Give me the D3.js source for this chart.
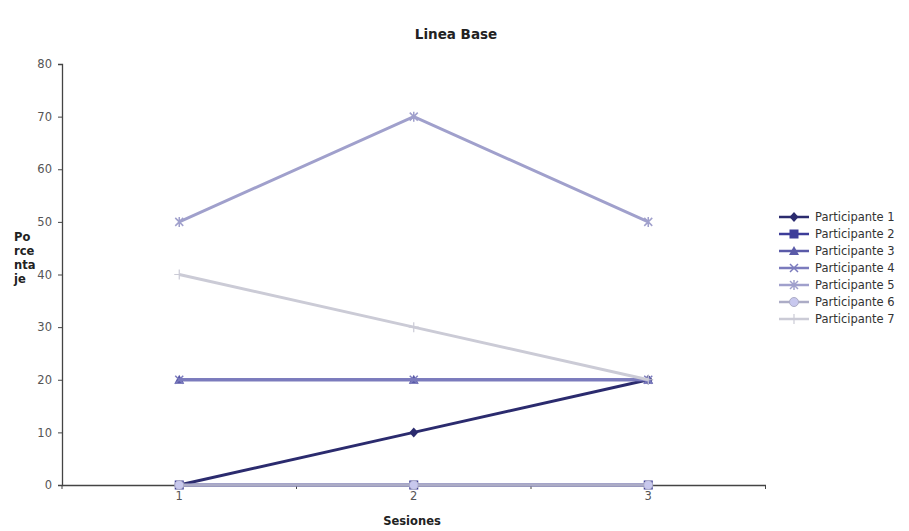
<!DOCTYPE html>
<html><head><meta charset="utf-8">
<script src="https://cdn.jsdelivr.net/npm/d3@7"></script>
<style>body{margin:0;background:#fff}svg{display:block}</style>
</head><body>
<script>
const sessions = ["1","2","3"];
const yTicks = [0,10,20,30,40,50,60,70,80];
const seriesNames = ["Participante 1","Participante 2","Participante 3","Participante 4","Participante 5","Participante 6","Participante 7"];
const p1 = [0,10,20];
const p2 = [0,0,0];
const p3 = [20,20,20];
const p4 = [20,20,20];
const p5 = [50,70,50];
const p6 = [0,0,0];
const p7 = [40,30,20];
const seriesValues = [p1,p2,p3,p4,p5,p6,p7];
const colors = ["#2b2b6e","#3d3d99","#5a5aa8","#7b7bbd","#a0a0cc","#acacc6","#cbcbd6"];
const markers = ["diamond","square","triangle","x","star","circle","plus"];

const W=909,H=531;
const svg=d3.select("body").append("svg").attr("width",W).attr("height",H);
const x=d3.scaleBand().domain(sessions).range([62,765.5]);
const y=d3.scaleLinear().domain([0,80]).range([485,64]);

svg.append("text").attr("x",456).attr("y",39).attr("text-anchor","middle")
 .attr("font-family","DejaVu Sans").attr("font-weight","bold").attr("font-size",13.5).attr("fill","#222").text("Linea Base");

// y axis
const ya=svg.append("g").attr("transform","translate(62,0)")
 .call(d3.axisLeft(y).tickValues(yTicks).tickSize(4).tickPadding(6));
ya.select(".domain").attr("stroke","#444").attr("stroke-width",1.3);
ya.selectAll(".tick line").attr("stroke","#444");
ya.selectAll("text").attr("font-family","DejaVu Sans").attr("font-size",11.5).attr("fill","#555");

// x axis
const xa=svg.append("g").attr("transform","translate(0,485)")
 .call(d3.axisBottom(x).tickSize(0).tickPadding(7));
xa.select(".domain").attr("stroke","#444").attr("stroke-width",1.3);
xa.selectAll("text").attr("font-family","DejaVu Sans").attr("font-size",11.5).attr("fill","#555");
// boundary ticks between categories
const bounds=sessions.map(s=>x(s)).slice(1).concat([x.range()[1]]);
svg.append("g").selectAll("line").data([x.range()[0]].concat(bounds)).join("line")
 .attr("x1",d=>d).attr("x2",d=>d).attr("y1",485).attr("y2",489).attr("stroke","#444");

// axis titles
const yl=svg.append("text").attr("font-family","DejaVu Sans").attr("font-weight","bold").attr("font-size",11.5).attr("fill","#222");
["Po","rce","nta","je"].forEach((t,i)=>yl.append("tspan").attr("x",14).attr("y",241+i*14).text(t));
svg.append("text").attr("x",412).attr("y",525).attr("text-anchor","middle")
 .attr("font-family","DejaVu Sans").attr("font-weight","bold").attr("font-size",11.5).attr("fill","#222").text("Sesiones");

function drawMarker(g,type,cx,cy,c){
  if(type==="diamond") g.append("path").attr("d",`M${cx},${cy-5}L${cx+4.5},${cy}L${cx},${cy+5}L${cx-4.5},${cy}Z`).attr("fill",c);
  else if(type==="square") g.append("rect").attr("x",cx-4.5).attr("y",cy-4.5).attr("width",9).attr("height",9).attr("fill",c);
  else if(type==="triangle") g.append("path").attr("d",`M${cx},${cy-5}L${cx+5},${cy+4}L${cx-5},${cy+4}Z`).attr("fill",c);
  else if(type==="x") g.append("path").attr("d",`M${cx-4},${cy-4}L${cx+4},${cy+4}M${cx-4},${cy+4}L${cx+4},${cy-4}`).attr("stroke",c).attr("stroke-width",1.5);
  else if(type==="star") g.append("path").attr("d",`M${cx-4},${cy-4}L${cx+4},${cy+4}M${cx-4},${cy+4}L${cx+4},${cy-4}M${cx},${cy-5}L${cx},${cy+5}`).attr("stroke",c).attr("stroke-width",1.5);
  else if(type==="circle") g.append("circle").attr("cx",cx).attr("cy",cy).attr("r",4.5).attr("fill","#c8c8ee").attr("stroke",c).attr("stroke-width",1);
  else if(type==="plus") g.append("path").attr("d",`M${cx-5},${cy}L${cx+5},${cy}M${cx},${cy-5}L${cx},${cy+5}`).attr("stroke",c).attr("stroke-width",1.2);
}

const line=d3.line().x((d,i)=>x(sessions[i])+x.bandwidth()/2).y(d=>y(d));
seriesValues.forEach((vals,k)=>{
  const g=svg.append("g");
  g.append("path").datum(vals).attr("d",line).attr("fill","none").attr("stroke",colors[k]).attr("stroke-width",3);
  vals.forEach((v,i)=>drawMarker(g,markers[k],x(sessions[i])+x.bandwidth()/2,y(v),colors[k]));
});

// legend
const lg=svg.append("g");
seriesNames.forEach((n,k)=>{
  const yy=217+k*17;
  lg.append("line").attr("x1",779).attr("x2",809).attr("y1",yy).attr("y2",yy).attr("stroke",colors[k]).attr("stroke-width",2.5);
  drawMarker(lg,markers[k],794,yy,colors[k]);
  lg.append("text").attr("x",815).attr("y",yy+4).attr("font-family","DejaVu Sans").attr("font-size",11.5).attr("fill","#333").text(n);
});
</script>
</body></html>
